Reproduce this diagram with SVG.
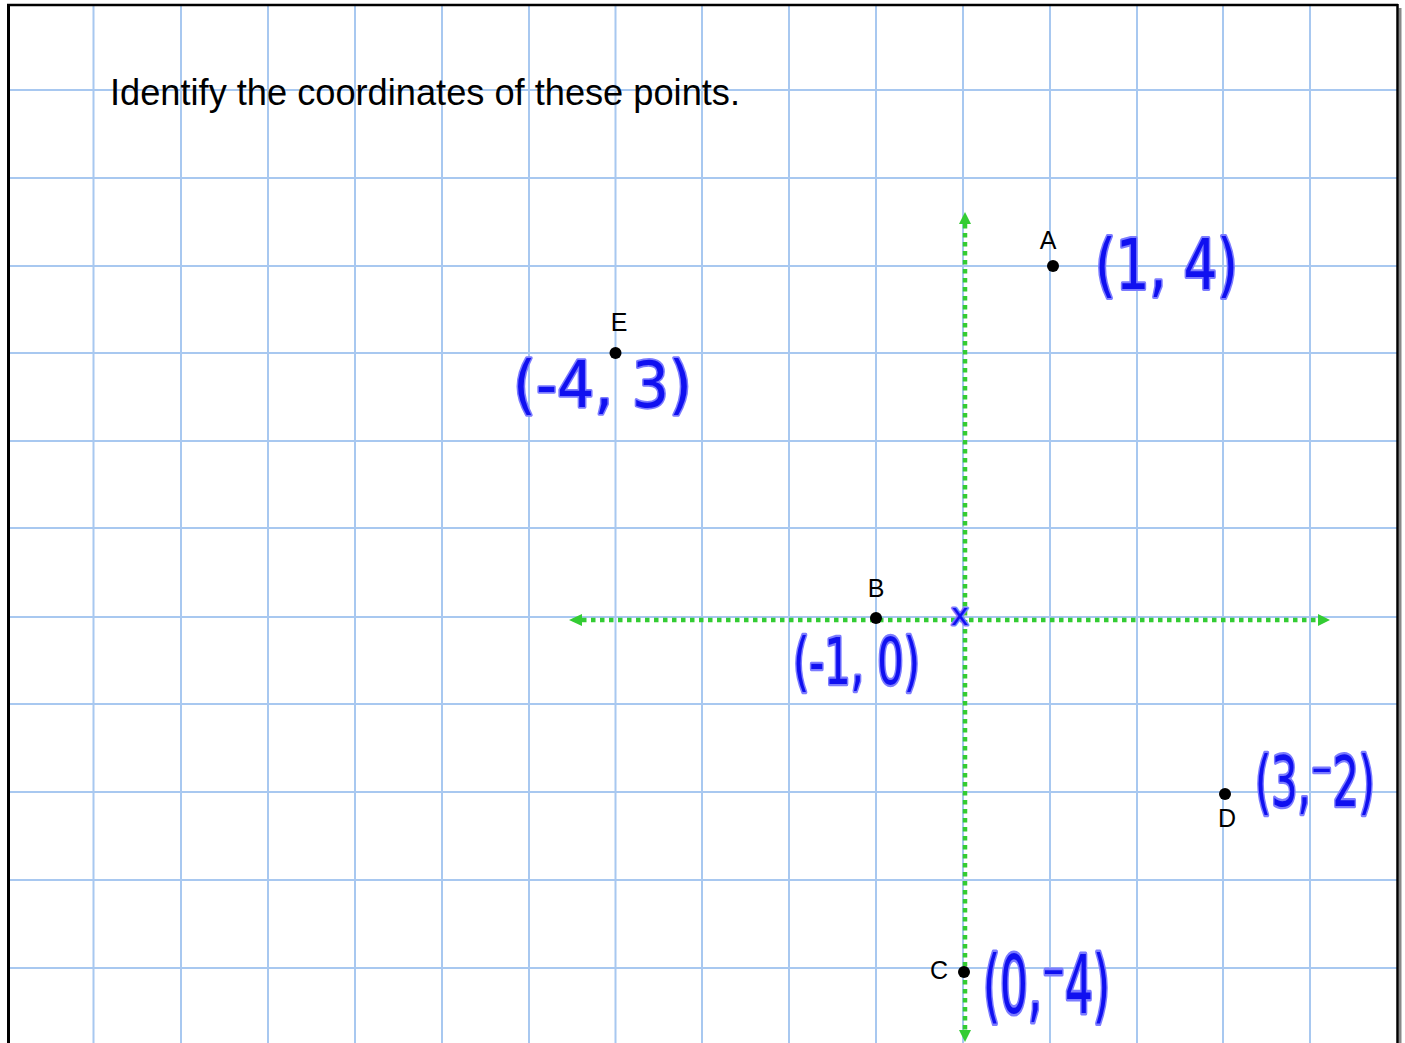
<svg xmlns="http://www.w3.org/2000/svg" width="1405" height="1043" viewBox="0 0 1405 1043">
<defs>
<style>
.grid line{stroke:#a8c8f0;stroke-width:2}
.axis{stroke:#33cc33;stroke-width:4.5;stroke-dasharray:4.5 4.5;fill:none}
.ah{fill:#33cc33}
.lbl{font-family:"Liberation Sans",Arial,sans-serif;font-size:25px;fill:#000;text-anchor:middle}
.hw{font-family:"DejaVu Sans","Liberation Sans",sans-serif;fill:#1010f0;stroke:#7c7cff;stroke-width:3;stroke-linejoin:round;paint-order:stroke}
.dot{fill:#000}
</style>
</defs>
<rect x="0" y="0" width="1405" height="1043" fill="#fff"/>
<g class="grid" id="grid">
<line x1="93.5" y1="5" x2="93.5" y2="1043"/>
<line x1="181" y1="5" x2="181" y2="1043"/>
<line x1="268" y1="5" x2="268" y2="1043"/>
<line x1="355" y1="5" x2="355" y2="1043"/>
<line x1="442" y1="5" x2="442" y2="1043"/>
<line x1="529" y1="5" x2="529" y2="1043"/>
<line x1="615.5" y1="5" x2="615.5" y2="1043"/>
<line x1="702" y1="5" x2="702" y2="1043"/>
<line x1="789" y1="5" x2="789" y2="1043"/>
<line x1="876" y1="5" x2="876" y2="1043"/>
<line x1="963" y1="5" x2="963" y2="1043"/>
<line x1="1050" y1="5" x2="1050" y2="1043"/>
<line x1="1137" y1="5" x2="1137" y2="1043"/>
<line x1="1223" y1="5" x2="1223" y2="1043"/>
<line x1="1310" y1="5" x2="1310" y2="1043"/>
<line x1="8" y1="90" x2="1397" y2="90"/>
<line x1="8" y1="178" x2="1397" y2="178"/>
<line x1="8" y1="266" x2="1397" y2="266"/>
<line x1="8" y1="353" x2="1397" y2="353"/>
<line x1="8" y1="441" x2="1397" y2="441"/>
<line x1="8" y1="528" x2="1397" y2="528"/>
<line x1="8" y1="617" x2="1397" y2="617"/>
<line x1="8" y1="704" x2="1397" y2="704"/>
<line x1="8" y1="792" x2="1397" y2="792"/>
<line x1="8" y1="880" x2="1397" y2="880"/>
<line x1="8" y1="968" x2="1397" y2="968"/>
</g>
<g id="frame">
<line x1="1400" y1="8" x2="1400" y2="1043" stroke="#888" stroke-width="3"/>
<line x1="8.5" y1="4" x2="8.5" y2="1043" stroke="#000" stroke-width="3"/>
<line x1="7" y1="5" x2="1398" y2="5" stroke="#000" stroke-width="2.5"/>
<line x1="1397.5" y1="4" x2="1397.5" y2="1043" stroke="#000" stroke-width="2.5"/>
</g>
<text x="110" y="105" font-family="Liberation Sans, Arial, sans-serif" font-size="36" fill="#000" textLength="630" lengthAdjust="spacingAndGlyphs">Identify the coordinates of these points.</text>
<g id="connectors">
<line class="axis" x1="965" y1="224" x2="965" y2="1030"/>
<polygon class="ah" points="965,212 959,224 971,224"/>
<polygon class="ah" points="965,1042 959,1030 971,1030"/>
<line class="axis" x1="582" y1="620" x2="1318" y2="620"/>
<polygon class="ah" points="569,620 582,614 582,626"/>
<polygon class="ah" points="1330,620 1318,614 1318,626"/>
</g>
<g id="pointA"><circle class="dot" cx="1053" cy="266" r="6"/><text class="lbl" x="1048" y="249">A</text></g>
<g id="pointE"><circle class="dot" cx="615.5" cy="353" r="6"/><text class="lbl" x="619" y="331">E</text></g>
<g id="pointB"><circle class="dot" cx="876" cy="618" r="6"/><text class="lbl" x="876" y="597">B</text></g>
<g id="pointD"><circle class="dot" cx="1225" cy="794" r="6"/><text class="lbl" x="1227" y="827">D</text></g>
<g id="pointC"><circle class="dot" cx="964" cy="972" r="6"/><text class="lbl" x="939" y="979">C</text></g>
<g id="handwriting">
<text class="hw" transform="translate(1095,289) scale(1,1.3)" font-size="53" textLength="143" lengthAdjust="spacingAndGlyphs">(1, 4)</text>
<text class="hw" transform="translate(513,407) scale(1,1.1)" font-size="58" textLength="179" lengthAdjust="spacingAndGlyphs">(-4, 3)</text>
<text class="hw" transform="translate(793,684) scale(1,1.45)" font-size="44" textLength="127" lengthAdjust="spacingAndGlyphs">(-1, 0)</text>
<text class="hw" transform="translate(1255,806) scale(1,1.55)" font-size="45" textLength="120" lengthAdjust="spacingAndGlyphs">(3,⁻2)</text>
<text class="hw" transform="translate(983,1013) scale(1,1.75)" font-size="46" textLength="127" lengthAdjust="spacingAndGlyphs">(0,⁻4)</text>
<text class="hw" x="960" y="625" font-size="30" text-anchor="middle">x</text>
</g>
</svg>
